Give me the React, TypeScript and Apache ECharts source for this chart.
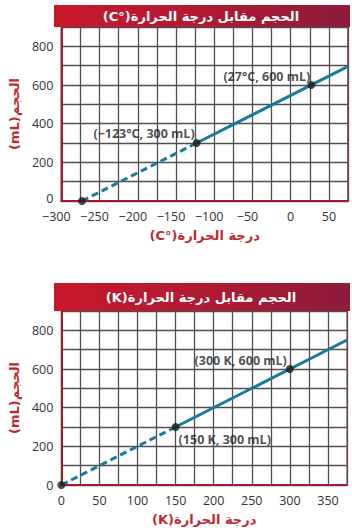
import React, { useEffect, useRef } from "react";
import * as echarts from "echarts";

// ---------- data ----------
const volumeTicks = [0, 200, 400, 600, 800];
const celsiusDashed: [number, number][] = [[-273, 0], [-123, 300]];
const celsiusSolid: [number, number][] = [[-123, 300], [75, 696]];
const celsiusPoints: [number, number][] = [[-273, 0], [-123, 300], [27, 600]];
const celsiusPointLabels = ["", "(−123°C, 300 mL)", "(27°C, 600 mL)"];

const kelvinDashed: [number, number][] = [[0, 0], [150, 300]];
const kelvinSolid: [number, number][] = [[150, 300], [375, 750]];
const kelvinPoints: [number, number][] = [[0, 0], [150, 300], [300, 600]];
const kelvinPointLabels = ["", "(150 K, 300 mL)", "(300 K, 600 mL)"];

const RLI = "\u2067";
const PDI = "\u2069";
const titleC = RLI + "الحجم مقابل درجة الحرارة(°C)" + PDI;
const titleK = RLI + "الحجم مقابل درجة الحرارة(K)" + PDI;
const xNameC = RLI + "درجة الحرارة(°C)" + PDI;
const xNameK = RLI + "درجة الحرارة(K)" + PDI;
const yName = RLI + "الحجم(mL)" + PDI;

// ---------- styles ----------
const LATIN = "'Open Sans', 'DejaVu Sans', sans-serif";
const ARABIC = "'DejaVu Sans', 'Open Sans', sans-serif";
const RED_AXIS = "#9b1c33";
const RED_TEXT = "#c0282f";
const LINE = "#1a7a9b";
const GRID = "#4f4f4f";

// label placement per point index (top chart / bottom chart)
const cLabelPos: any[] = [
  null,
  { position: "left", offset: [7, -10] },
  { position: "left", offset: [8, -9] },
];
const kLabelPos: any[] = [
  null,
  { position: "right", offset: [-6, 12] },
  { position: "left", offset: [6, -9] },
];

function xAxisFor(gridIndex: number, min: number, max: number, name: string) {
  return {
    type: "value",
    gridIndex,
    min,
    max,
    interval: 25,
    name,
    nameLocation: "middle",
    nameGap: 28,
    nameTextStyle: { color: RED_TEXT, fontSize: 13, fontFamily: ARABIC, fontWeight: "bold" },
    axisLine: { show: true, onZero: false, lineStyle: { color: RED_AXIS, width: 2 } },
    axisTick: { show: false },
    splitLine: { show: true, lineStyle: { color: GRID, width: 1.3 } },
    axisLabel: {
      margin: 9,
      color: "#333",
      fontSize: 12.5,
      lineHeight: 12,
      fontFamily: LATIN,
      showMinLabel: true,
      showMaxLabel: true,
      formatter: (v: number) => {
        if (v % 50 !== 0) return "";
        return v < 0 ? `{n|−${-v}}` : `${v}`;
      },
      rich: {
        n: { padding: [0, 10, 0, 0], fontSize: 12.5, lineHeight: 12, color: "#333", fontFamily: LATIN },
      },
    },
  };
}

function yAxisFor(gridIndex: number) {
  const liftZero = gridIndex === 0;
  return {
    type: "value",
    gridIndex,
    min: 0,
    max: 900,
    interval: 100,
    name: yName,
    nameLocation: "middle",
    nameRotate: 90,
    nameGap: 36,
    nameTextStyle: { color: RED_TEXT, fontSize: 13, fontFamily: ARABIC, fontWeight: "bold" },
    axisLine: { show: true, onZero: false, lineStyle: { color: RED_AXIS, width: 2 } },
    axisTick: { show: false },
    splitLine: { show: true, lineStyle: { color: GRID, width: 1.3 } },
    axisLabel: {
      margin: 8,
      color: "#333",
      fontSize: 12.5,
      lineHeight: 12,
      fontFamily: LATIN,
      formatter: (v: number) => {
        if (!volumeTicks.includes(v)) return "";
        return v === 0 && liftZero ? "{z|0}" : `${v}`;
      },
      rich: {
        z: { padding: [0, 0, 6, 0], fontSize: 12.5, lineHeight: 12, color: "#333", fontFamily: LATIN },
      },
    },
  };
}

function seriesFor(
  idx: number,
  dashed: [number, number][],
  solid: [number, number][],
  points: [number, number][],
  labels: string[],
  pos: any[]
) {
  return [
    {
      type: "line",
      xAxisIndex: idx,
      yAxisIndex: idx,
      data: dashed,
      showSymbol: false,
      lineStyle: { color: LINE, width: 3, type: [7, 4] },
      z: 3,
    },
    {
      type: "line",
      xAxisIndex: idx,
      yAxisIndex: idx,
      data: solid,
      showSymbol: false,
      lineStyle: { color: LINE, width: 3 },
      z: 3,
    },
    {
      type: "scatter",
      xAxisIndex: idx,
      yAxisIndex: idx,
      symbolSize: 8,
      itemStyle: { color: "#1a1a1a" },
      z: 5,
      data: points.map((p, i) => ({
        value: p,
        label: labels[i]
          ? {
              show: true,
              formatter: labels[i],
              color: "#222",
              fontSize: 12.5,
              fontWeight: "bold",
              fontFamily: LATIN,
              ...pos[i],
            }
          : { show: false },
      })),
    },
  ];
}

function titleBar(y: number, h: number, text: string) {
  return {
    type: "group",
    children: [
      {
        type: "rect",
        shape: { x: 54, y, width: 296, height: h },
        style: {
          fill: new echarts.graphic.LinearGradient(0, 0, 1, 0, [
            { offset: 0, color: "#c8182b" },
            { offset: 0.5, color: "#b01a33" },
            { offset: 1, color: "#8c1c3b" },
          ]),
        },
        z: 10,
      },
      {
        type: "text",
        x: 201,
        y: y + h / 2,
        style: {
          text,
          fill: "#fff",
          font: `bold 13px ${ARABIC}`,
          align: "center",
          verticalAlign: "middle",
        },
        z: 11,
      },
    ],
  };
}

export default function App() {
  const ref = useRef<HTMLDivElement>(null);
  useEffect(() => {
    if (!ref.current) return;
    const chart = echarts.init(ref.current, undefined, { renderer: "svg" });
    chart.setOption({
      animation: false,
      backgroundColor: "#fff",
      grid: [
        { left: 55, top: 27, width: 293, height: 174, show: true, borderColor: RED_AXIS, borderWidth: 1.5 },
        { left: 54, top: 311, width: 293, height: 174, show: true, borderColor: RED_AXIS, borderWidth: 1 },
      ],
      xAxis: [xAxisFor(0, -300, 75, xNameC), xAxisFor(1, 0, 375, xNameK)],
      yAxis: [yAxisFor(0), yAxisFor(1)],
      series: [
        ...seriesFor(0, celsiusDashed, celsiusSolid, celsiusPoints, celsiusPointLabels, cLabelPos),
        ...seriesFor(1, kelvinDashed, kelvinSolid, kelvinPoints, kelvinPointLabels, kLabelPos),
      ],
      graphic: [titleBar(5, 22, titleC), titleBar(283, 28, titleK)],
    });
    return () => chart.dispose();
  }, []);
  return (
    <div
      ref={ref}
      style={{ position: "fixed", left: 0, top: 0, width: 352, height: 531 }}
    />
  );
}
